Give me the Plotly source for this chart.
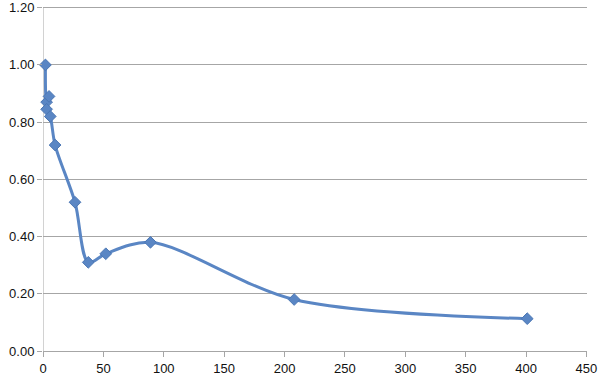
import plotly.graph_objects as go

x_vals = [2, 3, 5, 3, 6, 10, 26.5, 37.5, 52, 89, 208, 401]
y_vals = [1.00, 0.87, 0.89, 0.845, 0.82, 0.72, 0.52, 0.31, 0.34, 0.38, 0.18, 0.113]

x_ticks = [0, 50, 100, 150, 200, 250, 300, 350, 400, 450]
y_ticks = [0.0, 0.2, 0.4, 0.6, 0.8, 1.0, 1.2]

color = "#5A86C4"
grid = "#A6A6A6"

fig = go.Figure()
fig.add_trace(go.Scatter(
    x=x_vals, y=y_vals, mode="lines+markers",
    line=dict(color=color, width=3, shape="spline", smoothing=0.9),
    marker=dict(symbol="diamond", size=9, color=color,
                line=dict(color="#4A76B4", width=1)),
    showlegend=False,
    cliponaxis=False,
))

# y axis line running from 0 to the top tick only
fig.add_shape(type="line", xref="x", yref="y", x0=0, x1=0, y0=0, y1=y_ticks[-1],
              line=dict(color=grid, width=1), layer="below")

fig.update_layout(
    width=600, height=379,
    margin=dict(l=43, r=13, t=2, b=28),
    paper_bgcolor="white", plot_bgcolor="white",
    font=dict(family="Liberation Sans, Arial, sans-serif", size=13, color="#111"),
)
fig.update_xaxes(
    range=[0, 450.5], tickvals=x_ticks, ticktext=[str(v) for v in x_ticks],
    showgrid=False, zeroline=False, automargin=False, ticklabeloverflow="allow",
    showline=True, linecolor=grid, linewidth=1,
    ticks="outside", ticklen=5, tickcolor=grid,
)
fig.update_yaxes(
    range=[0, 1.22], tickvals=y_ticks, ticktext=[f"{v:.2f}" for v in y_ticks],
    showgrid=True, gridcolor=grid, gridwidth=1, zeroline=False, automargin=False,
    ticklabeloverflow="allow",
    showline=False,
    ticks="outside", ticklen=5, tickcolor=grid,
)

fig.write_html("out.html")
